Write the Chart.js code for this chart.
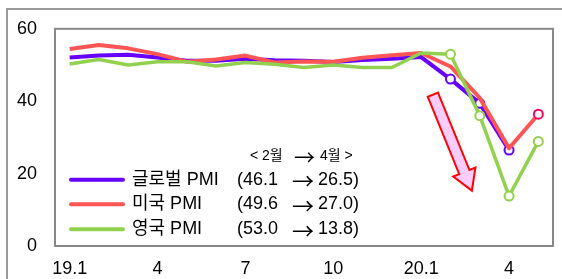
<!DOCTYPE html>
<html>
<head>
<meta charset="utf-8">
<script src="https://cdn.jsdelivr.net/npm/chart.js@4"></script>
<style>
  html, body { margin: 0; padding: 0; background: #fff; overflow: hidden; }
  #frame { position: absolute; left: 6px; top: 8px; width: 600px; height: 300px; border: 2px solid #999; }
  #wrap { position: absolute; left: 0; top: 0; width: 562px; height: 279px; }
</style>
</head>
<body>
<div id="frame"></div>
<div id="wrap"><canvas id="c" width="562" height="279"></canvas></div>
<script>
// ---- data ----
const months = ['19.1','19.2','19.3','19.4','19.5','19.6','19.7','19.8','19.9','19.10','19.11','19.12','20.1','20.2','20.3','20.4','20.5'];
const tickLabels = ['19.1','','','4','','','7','','','10','','','20.1','','','4',''];
const seriesNames = ['글로벌 PMI', '미국 PMI', '영국 PMI'];
const globalPMI = [52.1,52.6,52.8,52.1,51.2,51.2,51.7,51.3,51.2,50.8,51.4,51.7,52.2,46.1,39.4,26.5,null];
const usPMI     = [54.4,55.5,54.6,53.0,50.9,51.5,52.6,50.7,51.0,50.9,52.0,52.7,53.3,49.6,40.9,27.0,36.4];
const ukPMI     = [50.3,51.5,50.0,50.9,50.9,49.7,50.7,50.2,49.3,50.0,49.3,49.3,53.3,53.0,36.0,13.8,28.9];
const yTicks = [0, 20, 40, 60];
const headerFrom = '< 2월', headerTo = '4월 >';
const fromIdx = 13, toIdx = 15; // Feb -> Apr

const FONT = '"Liberation Sans", "Noto Sans CJK KR", Arial, sans-serif';
const ARROW_FONT = '"Noto Sans CJK KR", "DejaVu Sans", sans-serif';

function radii(arr, from) { return arr.map((v, i) => (i >= from && v !== null ? 4.5 : 0)); }

const colors = ['#6600ff', '#ff5555', '#92d050'];
const datasets = [
  { label: seriesNames[0], data: globalPMI, borderColor: colors[0], borderWidth: 4,
    pointRadius: radii(globalPMI, 13), pointBackgroundColor: '#fff', pointBorderColor: colors[0], pointBorderWidth: 2, order: 3 },
  { label: seriesNames[1], data: usPMI, borderColor: colors[1], borderWidth: 4,
    pointRadius: radii(usPMI, 16), pointBackgroundColor: '#fff', pointBorderColor: '#ff0066', pointBorderWidth: 2, order: 2 },
  { label: seriesNames[2], data: ukPMI, borderColor: colors[2], borderWidth: 3.5,
    pointRadius: radii(ukPMI, 13), pointBackgroundColor: '#fff', pointBorderColor: colors[2], pointBorderWidth: 2, order: 1 }
];

const decor = {
  id: 'decor',
  afterDatasetsDraw(chart) {
    const ctx = chart.ctx, a = chart.chartArea, xs = chart.scales.x, ys = chart.scales.y;
    ctx.save();
    // plot border
    ctx.strokeStyle = '#888'; ctx.lineWidth = 2;
    ctx.strokeRect(a.left, a.top, a.right - a.left, a.bottom - a.top);

    // block arrow positioned through scales
    const x0 = xs.getPixelForValue(12.4), y0 = ys.getPixelForValue(41.8);
    const x1 = xs.getPixelForValue(13.73), y1 = ys.getPixelForValue(15.3);
    const dx = x1 - x0, dy = y1 - y0, len = Math.hypot(dx, dy);
    const ang = Math.atan2(dy, dx);
    const sw = 5.5, hw = 12, hl = 20;
    ctx.translate(x0, y0); ctx.rotate(ang);
    ctx.beginPath();
    ctx.moveTo(0, -sw); ctx.lineTo(len - hl, -sw); ctx.lineTo(len - hl, -hw);
    ctx.lineTo(len, 0);
    ctx.lineTo(len - hl, hw); ctx.lineTo(len - hl, sw); ctx.lineTo(0, sw); ctx.closePath();
    ctx.fillStyle = '#ffccff'; ctx.fill();
    ctx.strokeStyle = '#ff0000'; ctx.lineWidth = 2; ctx.lineJoin = 'miter'; ctx.stroke();
    ctx.setTransform(1, 0, 0, 1, 0, 0);

    // legend
    const L = a.left;
    ctx.fillStyle = '#000';
    ctx.textBaseline = 'middle';
    // header
    const hy = a.top + 127;
    ctx.font = '14px ' + FONT;
    ctx.fillText(headerFrom, L + 195, hy);
    ctx.font = '21px ' + ARROW_FONT;
    ctx.fillText('→', L + 239, hy + 1);
    ctx.font = '14px ' + FONT;
    ctx.fillText(headerTo, L + 265, hy);

    const dsData = [globalPMI, usPMI, ukPMI];
    const rowY = [151, 175.5, 200.5];
    for (let i = 0; i < 3; i++) {
      const y = a.top + rowY[i];
      ctx.strokeStyle = colors[i]; ctx.lineWidth = 4; ctx.lineCap = 'round';
      ctx.beginPath(); ctx.moveTo(L + 16, y); ctx.lineTo(L + 68, y); ctx.stroke();
      ctx.font = '18px ' + FONT;
      ctx.fillText(seriesNames[i], L + 77, y);
      ctx.fillText('(' + dsData[i][fromIdx].toFixed(1), L + 182, y);
      ctx.font = '22px ' + ARROW_FONT;
      ctx.fillText('→', L + 237, y + 1);
      ctx.font = '18px ' + FONT;
      ctx.fillText(dsData[i][toIdx].toFixed(1) + ')', L + 263, y);
    }
    ctx.restore();
  }
};

new Chart(document.getElementById('c'), {
  type: 'line',
  data: { labels: months, datasets },
  options: {
    responsive: false, animation: false, devicePixelRatio: 1,
    layout: { padding: { top: 25, right: 9, left: 0, bottom: 0 } },
    elements: { line: { tension: 0, borderCapStyle: 'butt', borderJoinStyle: 'round' } },
    plugins: { legend: { display: false }, tooltip: { enabled: false } },
    scales: {
      x: {
        offset: true,
        grid: { display: false, drawTicks: false },
        border: { display: false },
        ticks: { autoSkip: false, maxRotation: 0, padding: 12, color: '#000',
          font: { size: 18, family: FONT },
          callback: (v, i) => tickLabels[i] },
        afterFit: s => { s.height = 33; }
      },
      y: {
        min: 0, max: 60,
        grid: { display: false, drawTicks: false },
        border: { display: false },
        afterBuildTicks: s => { s.ticks = yTicks.map(v => ({ value: v })); },
        ticks: { padding: 18, color: '#000', font: { size: 18, family: FONT } },
        afterFit: s => { s.width = 55; }
      }
    }
  },
  plugins: [decor]
});
</script>
</body>
</html>
